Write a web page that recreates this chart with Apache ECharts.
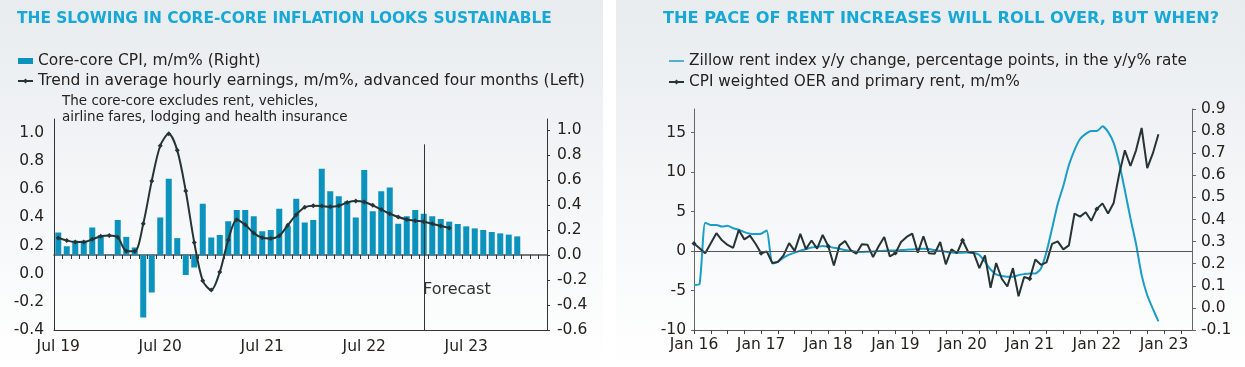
<!DOCTYPE html>
<html>
<head>
<meta charset="utf-8">
<script src="https://cdn.jsdelivr.net/npm/echarts@6/dist/echarts.min.js"></script>
<style>
html,body{margin:0;padding:0;background:#fff;}
#chart{width:1245px;height:367px;}
</style>
</head>
<body>
<div id="chart"></div>
<script>
// ---------- Left chart data ----------
const leftMonths = ['Jul 19','Aug 19','Sep 19','Oct 19','Nov 19','Dec 19','Jan 20','Feb 20','Mar 20','Apr 20','May 20','Jun 20',
 'Jul 20','Aug 20','Sep 20','Oct 20','Nov 20','Dec 20','Jan 21','Feb 21','Mar 21','Apr 21','May 21','Jun 21',
 'Jul 21','Aug 21','Sep 21','Oct 21','Nov 21','Dec 21','Jan 22','Feb 22','Mar 22','Apr 22','May 22','Jun 22',
 'Jul 22','Aug 22','Sep 22','Oct 22','Nov 22','Dec 22','Jan 23','Feb 23','Mar 23','Apr 23','May 23','Jun 23',
 'Jul 23','Aug 23','Sep 23','Oct 23','Nov 23','Dec 23','Jan 24','Feb 24','Mar 24','Apr 24'];
const coreCoreCPI = [0.18,0.07,0.115,0.115,0.22,0.16,0.005,0.28,0.145,0.06,-0.50,-0.30,
 0.30,0.61,0.135,-0.16,-0.10,0.41,0.14,0.16,0.27,0.36,0.36,0.31,
 0.19,0.20,0.37,0.23,0.45,0.26,0.28,0.69,0.51,0.47,0.43,0.30,
 0.68,0.35,0.51,0.54,0.25,0.31,0.36,0.33,0.31,0.288,0.267,0.248,
 0.229,0.213,0.20,0.184,0.173,0.163,0.149,null,null,null];
const wageTrend = [0.254,0.237,0.225,0.225,0.245,0.266,0.272,0.259,0.162,0.16,0.355,0.66,
 0.91,0.995,0.877,0.588,0.222,-0.05,-0.116,0.012,0.24,0.384,0.348,0.289,
 0.256,0.251,0.27,0.344,0.42,0.472,0.483,0.481,0.476,0.483,0.507,0.517,
 0.51,0.486,0.457,0.427,0.403,0.386,0.377,0.37,0.355,0.339,0.325,null,
 null,null,null,null,null,null,null,null,null,null];
const leftTicksL = [-0.4,-0.2,0.0,0.2,0.4,0.6,0.8,1.0];
const leftTicksR = [-0.6,-0.4,-0.2,0.0,0.2,0.4,0.6,0.8,1.0];
const forecastStart = 42.5; // boundary Jan 23 / Feb 23

// ---------- Right chart data ----------
const rightMonths = ['Jan 16','Feb 16','Mar 16','Apr 16','May 16','Jun 16','Jul 16','Aug 16','Sep 16','Oct 16','Nov 16','Dec 16',
 'Jan 17','Feb 17','Mar 17','Apr 17','May 17','Jun 17','Jul 17','Aug 17','Sep 17','Oct 17','Nov 17','Dec 17',
 'Jan 18','Feb 18','Mar 18','Apr 18','May 18','Jun 18','Jul 18','Aug 18','Sep 18','Oct 18','Nov 18','Dec 18',
 'Jan 19','Feb 19','Mar 19','Apr 19','May 19','Jun 19','Jul 19','Aug 19','Sep 19','Oct 19','Nov 19','Dec 19',
 'Jan 20','Feb 20','Mar 20','Apr 20','May 20','Jun 20','Jul 20','Aug 20','Sep 20','Oct 20','Nov 20','Dec 20',
 'Jan 21','Feb 21','Mar 21','Apr 21','May 21','Jun 21','Jul 21','Aug 21','Sep 21','Oct 21','Nov 21','Dec 21',
 'Jan 22','Feb 22','Mar 22','Apr 22','May 22','Jun 22','Jul 22','Aug 22','Sep 22','Oct 22','Nov 22','Dec 22',
 'Jan 23','Feb 23','Mar 23','Apr 23','May 23','Jun 23'];
const zillowChange = [-4.3,-4.15,3.6,3.3,3.3,3.1,3.2,2.9,2.7,2.4,2.2,2.16,
 2.2,2.6,-1.57,-1.35,-0.85,-0.45,-0.2,0.05,0.25,0.45,0.55,0.65,
 0.55,0.42,0.3,0.13,0.0,-0.08,-0.13,-0.08,-0.04,0.0,0.04,0.08,
 0.08,0.13,0.17,0.21,0.25,0.3,0.25,0.13,0.04,-0.08,-0.17,-0.21,
 -0.21,-0.17,-0.21,-0.5,-1.35,-2.33,-2.96,-3.17,-3.26,-3.26,-3.05,-2.92,
 -2.83,-2.83,-2.2,-0.1,2.88,5.96,8.25,10.9,12.8,14.2,14.85,15.2,
 15.2,15.8,15.1,13.7,11.1,7.7,4.15,0.9,-3.05,-5.6,-7.3,-8.9,
 null,null,null,null,null,null];
const cpiRent = [0.291,0.27,0.247,0.293,0.338,0.306,0.285,0.272,0.352,0.31,0.327,0.29,
 0.247,0.256,0.203,0.208,0.238,0.293,0.258,0.335,0.266,0.305,0.268,0.33,
 0.279,0.192,0.283,0.303,0.261,0.245,0.288,0.286,0.23,0.279,0.321,0.233,
 0.248,0.298,0.321,0.336,0.25,0.324,0.247,0.245,0.298,0.197,0.265,0.248,
 0.306,0.253,0.248,0.18,0.238,0.091,0.203,0.132,0.097,0.18,0.053,0.14,
 0.132,0.219,0.195,0.206,0.29,0.301,0.265,0.283,0.427,0.413,0.433,0.394,
 0.448,0.473,0.427,0.475,0.607,0.713,0.642,0.713,0.814,0.632,0.699,0.786,
 null,null,null,null,null,null];
const rightTicksL = [-10,-5,0,5,10,15];
const rightTicksR = [-0.1,0.0,0.1,0.2,0.3,0.4,0.5,0.6,0.7,0.8,0.9];

// ---------- styling ----------
const FONT = '"DejaVu Sans", sans-serif';
const TXT = '#26221f';
const DARK = '#263434';
const BLUE = '#0b93bd';
const ZBLUE = '#1a9dc8';
const TITLE = '#18a8d6';
const AX = 15.5;

const bgGrad = {type:'linear',x:0,y:0,x2:0,y2:1,colorStops:[{offset:0,color:'#e8ecef'},{offset:1,color:'#ffffff'}]};
const thinLine = 'path://M0,0 L16,0 L16,1.6 L0,1.6 Z';

const chart = echarts.init(document.getElementById('chart'), null, {renderer:'canvas'});
chart.setOption({
  animation:false,
  backgroundColor:'#ffffff',
  graphic:[
    {type:'rect',z:-10,shape:{x:0,y:0,width:603,height:367},style:{fill:bgGrad}},
    {type:'rect',z:-10,shape:{x:616,y:0,width:629,height:367},style:{fill:bgGrad}},
    {type:'text',left:62,top:93,style:{text:'The core-core excludes rent, vehicles,\nairline fares, lodging and health insurance',
      font:'13.5px '+FONT,fill:TXT,lineHeight:16}},
    {type:'text',left:423,top:282,style:{text:'Forecast',font:'16px '+FONT,fill:'#333333'}}
  ],
  title:[
    {text:'THE SLOWING IN CORE-CORE INFLATION LOOKS SUSTAINABLE',left:17,top:10,padding:0,
     textStyle:{fontFamily:FONT,fontWeight:'bold',fontSize:15.4,lineHeight:18,color:TITLE}},
    {text:'THE PACE OF RENT INCREASES WILL ROLL OVER, BUT WHEN?',left:663,top:10,padding:0,
     textStyle:{fontFamily:FONT,fontWeight:'bold',fontSize:16.2,lineHeight:18,color:TITLE}}
  ],
  legend:[
    {data:[{name:'Core-core CPI, m/m% (Right)',icon:'rect'},{name:'Trend in average hourly earnings, m/m%, advanced four months (Left)'}],
     orient:'vertical',left:17,top:52,padding:0,itemGap:2,itemWidth:15,itemHeight:6,selectedMode:false,
     textStyle:{fontFamily:FONT,fontSize:15.5,color:TXT,lineHeight:18,padding:[0,0,0,0]}},
    {data:[{name:'Zillow rent index y/y change, percentage points, in the y/y% rate',icon:thinLine},'CPI weighted OER and primary rent, m/m%'],
     orient:'vertical',left:668,top:52,padding:0,itemGap:3,itemWidth:15,itemHeight:6,selectedMode:false,
     textStyle:{fontFamily:FONT,fontSize:15.3,color:TXT,lineHeight:18,padding:[0,0,0,0]}}
  ],
  grid:[
    {left:54,right:698,top:119,bottom:37},
    {left:694,right:53,top:109,bottom:37}
  ],
  xAxis:[
    {gridIndex:0,type:'category',data:leftMonths,boundaryGap:true,position:'bottom',
     axisLine:{onZero:false,lineStyle:{color:'#333',width:1}},axisTick:{show:false},
     axisLabel:{interval:11,margin:9,fontFamily:FONT,fontSize:AX,color:TXT}},
    {gridIndex:0,type:'category',data:leftMonths,boundaryGap:true,position:'top',
     axisLine:{onZero:true,onZeroAxisIndex:1,lineStyle:{color:'#4d4d4d',width:1.5}},
     axisTick:{show:true,inside:true,length:4,interval:0,lineStyle:{color:'#333'}},axisLabel:{show:false}},
    {gridIndex:1,type:'category',data:rightMonths,boundaryGap:false,
     axisLine:{onZero:false,lineStyle:{color:'#555',width:1}},
     axisTick:{show:true,length:4,interval:(i)=>i%3===0,lineStyle:{color:'#444'}},
     axisLabel:{interval:(i)=>i%12===0,margin:7,fontFamily:FONT,fontSize:AX,color:TXT}}
  ],
  yAxis:[
    {gridIndex:0,type:'value',position:'left',min:-0.4,max:1.1,interval:0.2,
     axisLine:{show:true,lineStyle:{color:'#333',width:1}},axisTick:{show:false},splitLine:{show:false},
     axisLabel:{customValues:leftTicksL,formatter:(v)=>v.toFixed(1),margin:10,fontFamily:FONT,fontSize:AX,color:TXT}},
    {gridIndex:0,type:'value',position:'right',min:-0.6,max:1.088,interval:0.2,
     axisLine:{show:true,lineStyle:{color:'#333',width:1}},
     axisTick:{show:true,length:3,customValues:leftTicksR,lineStyle:{color:'#333'}},splitLine:{show:false},
     axisLabel:{customValues:leftTicksR,formatter:(v)=>v.toFixed(1),margin:10,fontFamily:FONT,fontSize:AX,color:TXT}},
    {gridIndex:1,type:'value',position:'left',min:-10,max:18,interval:5,
     axisLine:{show:true,lineStyle:{color:'#666',width:1}},
     axisTick:{show:true,length:3,customValues:rightTicksL,lineStyle:{color:'#666'}},splitLine:{show:false},
     axisLabel:{customValues:rightTicksL,margin:8,fontFamily:FONT,fontSize:AX,color:TXT}},
    {gridIndex:1,type:'value',position:'right',min:-0.1,max:0.9,interval:0.1,
     axisLine:{show:true,lineStyle:{color:'#666',width:1}},
     axisTick:{show:true,length:4,customValues:rightTicksR,lineStyle:{color:'#666'}},splitLine:{show:false},
     axisLabel:{customValues:rightTicksR,formatter:(v)=>v.toFixed(1),margin:9,fontFamily:FONT,fontSize:AX,color:TXT}}
  ],
  series:[
    {name:'Core-core CPI, m/m% (Right)',type:'bar',xAxisIndex:0,yAxisIndex:1,data:coreCoreCPI,barWidth:6,
     itemStyle:{color:BLUE}},
    {name:'Trend in average hourly earnings, m/m%, advanced four months (Left)',type:'line',xAxisIndex:0,yAxisIndex:0,
     data:wageTrend,smooth:0.3,symbol:'diamond',symbolSize:5,showSymbol:true,
     itemStyle:{color:DARK},lineStyle:{color:DARK,width:2},
     markLine:{silent:true,symbol:'none',label:{show:false},lineStyle:{color:'#333',width:1,type:'solid'},
       data:[[{coord:[forecastStart,-0.4]},{coord:[forecastStart,0.92]}]]}},
    {name:'Zillow rent index y/y change, percentage points, in the y/y% rate',type:'line',xAxisIndex:2,yAxisIndex:2,
     data:zillowChange,smooth:0.2,symbol:'none',itemStyle:{color:ZBLUE},lineStyle:{color:ZBLUE,width:2},
     markLine:{silent:true,symbol:'none',label:{show:false},lineStyle:{color:'#555',width:1,type:'solid'},
       data:[{yAxis:0}]}},
    {name:'CPI weighted OER and primary rent, m/m%',type:'line',xAxisIndex:2,yAxisIndex:3,
     data:cpiRent,symbol:'diamond',symbolSize:5,showSymbol:true,
     itemStyle:{color:DARK},lineStyle:{color:DARK,width:2}}
  ]
});
</script>
</body>
</html>
